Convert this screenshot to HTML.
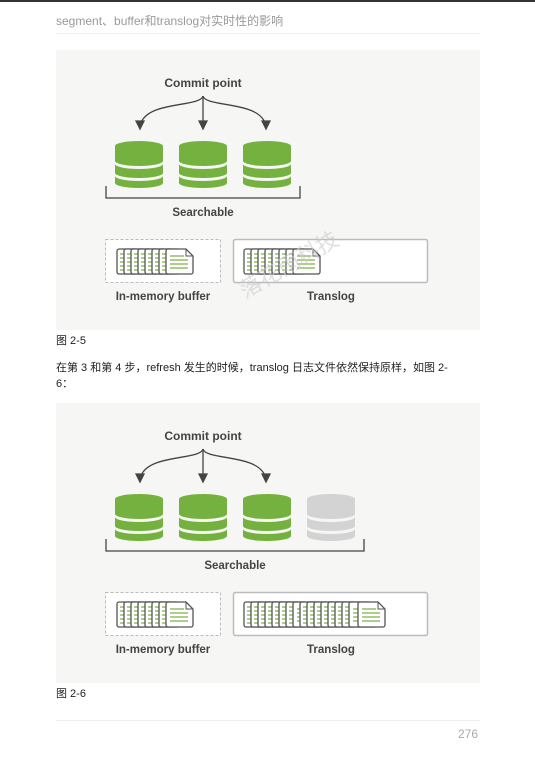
<!DOCTYPE html>
<html><head><meta charset="utf-8"><style>
body{margin:0;background:#fff;width:535px;height:757px;position:relative;overflow:hidden;font-family:"Liberation Sans","Noto Sans CJK SC",sans-serif}
.t{position:absolute;white-space:nowrap}
</style></head><body>
<div style="position:absolute;left:0;top:0;width:535px;height:2px;background:#333"></div>
<div class="t" style="left:56px;top:12px;font-size:12px;color:#999">segment、buffer和translog对实时性的影响</div>
<div style="position:absolute;left:56px;top:33px;width:424px;height:1px;background:#eee"></div>
<div class="t" style="left:56px;top:332px;font-size:11px;color:#222">图 2-5</div>
<div class="t" style="left:56px;top:360px;font-size:11px;color:#222;line-height:16px">在第 3 和第 4 步，refresh 发生的时候，translog 日志文件依然保持原样，如图 2-<br>6：</div>
<div class="t" style="left:56px;top:685px;font-size:11px;color:#222">图 2-6</div>
<div style="position:absolute;left:56px;top:720px;width:424px;height:1px;background:#eee"></div>
<div class="t" style="left:458px;top:727px;font-size:12px;color:#aaa">276</div>
<svg width="535" height="757" style="position:absolute;left:0;top:0" font-family="Liberation Sans, sans-serif">
<defs>
<g id="cyl">
<path d="M-24,0 A24,5 0 0 1 24,0 V15 A24,5 0 0 1 -24,15 Z"/>
<path d="M-24,18 A24,5 0 0 0 24,18 V27 A24,5 0 0 1 -24,27 Z"/>
<path d="M-24,30 A24,5 0 0 0 24,30 V37 A24,5 0 0 1 -24,37 Z"/>
</g>
<g id="pg"><rect x="0" y="0" width="20" height="25" rx="2" fill="#fff" stroke="#555" stroke-width="1.3"/>
<path d="M3,5h5M3,9h5M3,13h5M3,17h5M3,21h5" stroke="#7fb14a" stroke-width="1.3"/></g>
<g id="last"><path d="M0,2 a2,2 0 0 1 2,-2 h18 l7,7 v16 a2,2 0 0 1 -2,2 h-23 a2,2 0 0 1 -2,-2 z" fill="#fff" stroke="#555" stroke-width="1.3"/>
<path d="M20,0 v7 h7" fill="none" stroke="#555" stroke-width="1"/>
<path d="M4,7h14M4,11h18M4,15h18M4,19h18" stroke="#7fb14a" stroke-width="1.3"/></g>
<g id="arrows" fill="none" stroke="#444" stroke-width="1.3">
<path d="M203,96 C200,108 145,100 140,126"/><path d="M203,96 V126"/><path d="M203,96 C206,108 261,100 266,126"/>
<path d="M136,121 L140,129 L144,121 Z M199,121 L203,129 L207,121 Z M262,121 L266,129 L270,121 Z" fill="#444"/>
</g>
<g id="stack8"><use href="#pg" x="0"/><use href="#pg" x="7"/><use href="#pg" x="14"/><use href="#pg" x="21"/><use href="#pg" x="28"/><use href="#pg" x="35"/><use href="#pg" x="42"/><use href="#last" x="49"/></g>
</defs>
<!-- panel 1 -->
<rect x="56" y="50" width="424" height="280" fill="#f6f6f4"/>
<text x="203" y="87" font-size="12" font-weight="bold" fill="#444" text-anchor="middle">Commit point</text>
<use href="#arrows"/>
<g fill="#75b13e"><use href="#cyl" x="139" y="146"/><use href="#cyl" x="203" y="146"/><use href="#cyl" x="267" y="146"/></g>
<path d="M106,186 V198 H300 V186" fill="none" stroke="#444" stroke-width="1.3"/>
<text x="203" y="216" font-size="11.5" font-weight="bold" fill="#444" text-anchor="middle">Searchable</text>
<rect x="105.5" y="239.5" width="115" height="43" fill="#fff" stroke="#bbb" stroke-dasharray="3,2"/>
<rect x="233.5" y="239.5" width="194" height="43" rx="2" fill="#fff" stroke="#bbb" stroke-width="1.5"/>
<use href="#stack8" x="117" y="249"/>
<use href="#stack8" x="244" y="249"/>
<text x="163" y="300" font-size="11.5" font-weight="bold" fill="#444" text-anchor="middle">In-memory buffer</text>
<text x="331" y="300" font-size="11.5" font-weight="bold" fill="#444" text-anchor="middle">Translog</text>
<text x="240" y="300" font-size="22" fill="#ccc" opacity="0.6" transform="rotate(-30 240 290)" font-family="Noto Sans CJK SC">落花雨科技</text>
<!-- panel 2 -->
<rect x="56" y="403" width="424" height="280" fill="#f6f6f4"/>
<g transform="translate(0,353)">
<text x="203" y="87" font-size="12" font-weight="bold" fill="#444" text-anchor="middle">Commit point</text>
<use href="#arrows"/>
<g fill="#75b13e"><use href="#cyl" x="139" y="146"/><use href="#cyl" x="203" y="146"/><use href="#cyl" x="267" y="146"/></g>
<use href="#cyl" x="331" y="146" fill="#d3d3d3"/>
<path d="M106,186 V198 H364 V186" fill="none" stroke="#444" stroke-width="1.3"/>
<text x="235" y="216" font-size="11.5" font-weight="bold" fill="#444" text-anchor="middle">Searchable</text>
<rect x="105.5" y="239.5" width="115" height="43" fill="#fff" stroke="#bbb" stroke-dasharray="3,2"/>
<rect x="233.5" y="239.5" width="194" height="43" rx="2" fill="#fff" stroke="#bbb" stroke-width="1.5"/>
<use href="#stack8" x="117" y="249"/>
<use href="#stack8" x="244" y="249"/>
<use href="#stack8" x="300" y="249"/>
<use href="#last" x="358" y="249"/>
<text x="163" y="300" font-size="11.5" font-weight="bold" fill="#444" text-anchor="middle">In-memory buffer</text>
<text x="331" y="300" font-size="11.5" font-weight="bold" fill="#444" text-anchor="middle">Translog</text>
</g>
</svg>
</body></html>
